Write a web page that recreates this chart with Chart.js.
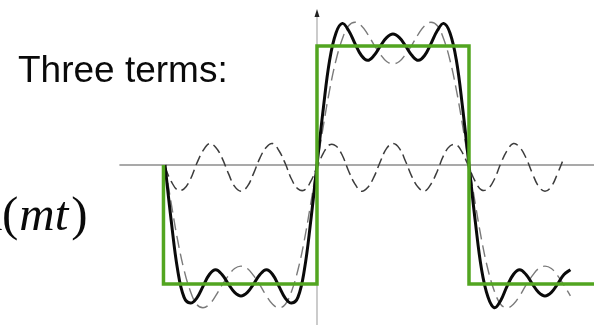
<!DOCTYPE html>
<html>
<head>
<meta charset="utf-8">
<script src="https://cdn.jsdelivr.net/npm/chart.js@4"></script>
<style>
  html, body { margin: 0; padding: 0; background: #fff; }
  #wrap { width: 594px; height: 325px; position: relative; }
</style>
</head>
<body>
<div id="wrap"><canvas id="c" width="594" height="325"></canvas></div>
<script>
// ---- data (t in units of pi, values relative to the square-wave height) ----
const tOverPi = [-1, -0.958, -0.917, -0.875, -0.833, -0.792, -0.75, -0.708, -0.667, -0.625, -0.583, -0.542,
  -0.5, -0.458, -0.417, -0.375, -0.333, -0.292, -0.25, -0.208, -0.167, -0.125, -0.083, -0.042,
  0, 0.042, 0.083, 0.125, 0.167, 0.208, 0.25, 0.292, 0.333, 0.375, 0.417, 0.458,
  0.5, 0.542, 0.583, 0.625, 0.667, 0.708, 0.75, 0.792, 0.833, 0.875, 0.917, 0.958,
  1, 1.042, 1.083, 1.125, 1.167, 1.208, 1.25, 1.292, 1.333, 1.375, 1.417, 1.458,
  1.5, 1.542, 1.583, 1.625, 1.667];

const threeTerms = [0, -0.48, -0.88, -1.11, -1.16, -1.12, -1.02, -0.92, -0.88, -0.92, -1.00, -1.07,
  -1.10, -1.07, -1.00, -0.92, -0.88, -0.92, -1.02, -1.12, -1.16, -1.11, -0.88, -0.48,
  0, 0.48, 0.88, 1.11, 1.19, 1.13, 1.02, 0.92, 0.88, 0.92, 1.00, 1.07,
  1.10, 1.07, 1.00, 0.92, 0.88, 0.92, 1.02, 1.13, 1.19, 1.11, 0.88, 0.48,
  0, -0.48, -0.88, -1.11, -1.20, -1.14, -1.02, -0.92, -0.88, -0.92, -1.00, -1.07,
  -1.10, -1.07, -1.00, -0.92, -0.88];

const twoTerms = [0, -0.33, -0.63, -0.88, -1.06, -1.17, -1.20, -1.17, -1.10, -1.01, -0.93, -0.87,
  -0.85, -0.87, -0.93, -1.01, -1.10, -1.17, -1.20, -1.17, -1.06, -0.88, -0.63, -0.33,
  0, 0.33, 0.63, 0.88, 1.06, 1.17, 1.20, 1.17, 1.10, 1.01, 0.93, 0.87,
  0.85, 0.87, 0.93, 1.01, 1.10, 1.17, 1.20, 1.17, 1.06, 0.88, 0.63, 0.33,
  0, -0.33, -0.63, -0.88, -1.06, -1.17, -1.20, -1.17, -1.10, -1.01, -0.93, -0.87,
  -0.85, -0.87, -0.93, -1.01, -1.10];

const thirdTerm = [-0.02, -0.14, -0.21, -0.20, -0.12, 0.01, 0.12, 0.18, 0.15, 0.06, -0.07, -0.18,
  -0.22, -0.18, -0.07, 0.06, 0.15, 0.18, 0.12, 0.01, -0.12, -0.20, -0.21, -0.14,
  -0.02, 0.10, 0.17, 0.16, 0.08, -0.05, -0.16, -0.22, -0.19, -0.10, 0.03, 0.14,
  0.18, 0.14, 0.03, -0.10, -0.19, -0.22, -0.16, -0.05, 0.08, 0.16, 0.17, 0.10,
  -0.02, -0.14, -0.21, -0.20, -0.12, 0.01, 0.12, 0.18, 0.15, 0.06, -0.07, -0.18,
  -0.22, -0.18, -0.07, 0.06];

const squareT = [-1.01, -1.01, 0, 0, 1, 1, 1.83];
const squareV = [0, -1, -1, 1, 1, -1, -1];

const hAxisT = [-1.30, 1.83];
const hAxisV = [0, 0];
const vAxisT = [0, 0];
const vAxisV = [-1.35, 1.27];

const titleText = 'Three terms:';
const formulaText = ['(', 'mt', ')'];

function zip(xs, ys) {
  const n = Math.min(xs.length, ys.length);
  const out = [];
  for (let i = 0; i < n; i++) out.push({ x: xs[i], y: ys[i] });
  return out;
}

const decor = {
  id: 'decor',
  beforeDraw(chart) {
    const ctx = chart.ctx;
    ctx.save();
    ctx.fillStyle = '#fff';
    ctx.fillRect(0, 0, chart.width, chart.height);
    ctx.restore();
  },
  afterDraw(chart) {
    const ctx = chart.ctx;
    const xs = chart.scales.x, ys = chart.scales.y;
    // arrowhead on vertical axis
    const ax = xs.getPixelForValue(vAxisT[1]);
    const ay = ys.getPixelForValue(vAxisV[1]);
    ctx.save();
    ctx.fillStyle = '#222';
    ctx.beginPath();
    ctx.moveTo(ax, ay - 5);
    ctx.lineTo(ax - 2.5, ay + 3);
    ctx.lineTo(ax + 2.5, ay + 3);
    ctx.closePath();
    ctx.fill();

    // title text
    ctx.fillStyle = '#0a0a0a';
    ctx.font = '37px "Liberation Sans", Arial, sans-serif';
    ctx.textBaseline = 'alphabetic';
    ctx.fillText(titleText, 18, 82);

    // formula fragment
    let x = 2;
    const base = 230;
    ctx.font = '49px "Liberation Serif", "Times New Roman", serif';
    ctx.fillText('n', -22, base);
    ctx.fillText(formulaText[0], x, base);
    x += ctx.measureText(formulaText[0]).width + 1;
    ctx.font = 'italic 49px "Liberation Serif", "Times New Roman", serif';
    ctx.fillText(formulaText[1], x, base);
    x += ctx.measureText(formulaText[1]).width + 3;
    ctx.font = '49px "Liberation Serif", "Times New Roman", serif';
    ctx.fillText(formulaText[2], x, base);
    ctx.restore();
  }
};

new Chart(document.getElementById('c'), {
  type: 'line',
  data: {
    datasets: [
      { label: 'square', data: zip(squareT, squareV), borderColor: '#52a520', borderWidth: 3.5,
        tension: 0, pointRadius: 0, order: 0, borderJoinStyle: 'miter' },
      { label: 'three terms', data: zip(tOverPi, threeTerms), borderColor: '#0a0a0a', borderWidth: 3,
        tension: 0.4, pointRadius: 0, order: 1 },
      { label: 'two terms', data: zip(tOverPi, twoTerms), borderColor: '#7a7a7a', borderWidth: 1.4,
        borderDash: [12, 6], tension: 0.4, pointRadius: 0, order: 2 },
      { label: 'third term', data: zip(tOverPi, thirdTerm), borderColor: '#3c3c3c', borderWidth: 1.5,
        borderDash: [10, 5], tension: 0.4, pointRadius: 0, order: 3 },
      { label: 'h axis', data: zip(hAxisT, hAxisV), borderColor: '#555', borderWidth: 1.2,
        tension: 0, pointRadius: 0, order: 4 },
      { label: 'v axis', data: zip(vAxisT, vAxisV), borderColor: '#aaa', borderWidth: 1.2,
        tension: 0, pointRadius: 0, order: 5 }
    ]
  },
  options: {
    responsive: false,
    animation: false,
    events: [],
    layout: { padding: 0 },
    plugins: { legend: { display: false }, tooltip: { enabled: false }, title: { display: false } },
    scales: {
      x: { type: 'linear', display: false, min: -2.0855, max: 1.8224 },
      y: { type: 'linear', display: false, min: -1.3445, max: 1.3866 }
    }
  },
  plugins: [decor]
});
</script>
</body>
</html>
